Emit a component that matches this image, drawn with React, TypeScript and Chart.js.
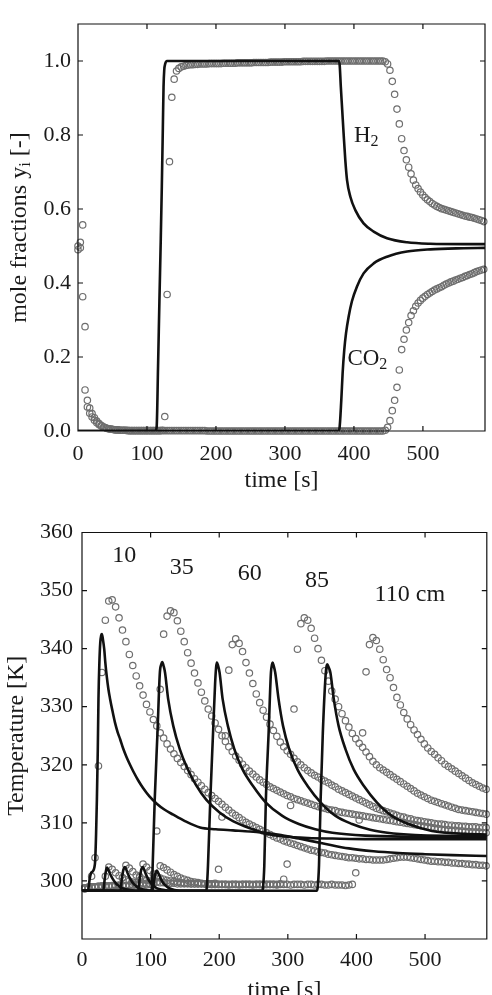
import React, { useEffect, useRef } from 'react';
import { Chart, registerables } from 'chart.js';

Chart.register(...registerables);

const FONT = "'Liberation Serif', 'DejaVu Serif', serif";

// ---------- axes / ticks ----------
const TOP_X_TICKS = [0, 100, 200, 300, 400, 500];
const TOP_Y_TICKS = [0, 0.2, 0.4, 0.6, 0.8, 1.0];
const BOT_X_TICKS = [0, 100, 200, 300, 400, 500];
const BOT_Y_TICKS = [300, 310, 320, 330, 340, 350, 360];
const TOP_X_RANGE = [0, 590];
const TOP_Y_RANGE = [0, 1.1];
const BOT_X_RANGE = [0, 590];
const BOT_Y_RANGE = [290, 360];

// ---------- top panel: mole fractions ----------
// experiment sampled every TOP_DT seconds starting at TOP_T0
const TOP_T0 = 0;
const TOP_DT = 3.4;
const H2_EXP = [
  0.500, 0.510, 0.557, 0.111, 0.083, 0.062, 0.047, 0.036, 0.027, 0.020,
  0.015, 0.011, 0.008, 0.006, 0.005, 0.004, 0.003, 0.003, 0.002, 0.002,
  0.002, 0.001, 0.001, 0.001, 0.001, 0.001, 0.001, 0.001, 0.001, 0.001,
  0.001, 0.001, 0.001, 0.001, 0.001, 0.001, 0.002, 0.039, 0.369, 0.728,
  0.902, 0.951, 0.973, 0.980, 0.984, 0.986, 0.988, 0.989, 0.990, 0.990,
  0.991, 0.991, 0.992, 0.992, 0.992, 0.992, 0.993, 0.993, 0.993, 0.993,
  0.993, 0.993, 0.994, 0.994, 0.994, 0.994, 0.994, 0.994, 0.995, 0.995,
  0.995, 0.995, 0.995, 0.995, 0.995, 0.996, 0.996, 0.996, 0.996, 0.996,
  0.996, 0.996, 0.997, 0.997, 0.997, 0.997, 0.997, 0.997, 0.998, 0.998,
  0.998, 0.998, 0.998, 0.998, 0.998, 0.998, 0.999, 0.999, 0.999, 0.999,
  0.999, 0.999, 0.999, 0.999, 0.999, 0.999, 1.000, 1.000, 1.000, 1.000,
  1.000, 1.000, 1.000, 1.000, 1.000, 1.000, 1.000, 1.000, 1.000, 1.000,
  1.000, 1.000, 1.000, 1.000, 1.000, 1.000, 1.000, 1.000, 1.000, 1.000,
  1.000, 0.998, 0.992, 0.975, 0.945, 0.910, 0.870, 0.830, 0.790, 0.758,
  0.733, 0.713, 0.695, 0.678, 0.665, 0.655, 0.646, 0.638, 0.631, 0.625,
  0.620, 0.615, 0.611, 0.607, 0.604, 0.601, 0.599, 0.597, 0.595, 0.593,
  0.591, 0.589, 0.587, 0.585, 0.583, 0.581, 0.580, 0.578, 0.577, 0.575,
  0.573, 0.571, 0.569, 0.566,
];
const CO2_EXP = [
  0.490, 0.495, 0.363, 0.282, 0.065, 0.048, 0.038, 0.029, 0.022, 0.017,
  0.013, 0.010, 0.008, 0.006, 0.005, 0.004, 0.003, 0.003, 0.002, 0.002,
  0.002, 0.002, 0.001, 0.001, 0.001, 0.001, 0.001, 0.001, 0.001, 0.001,
  0.001, 0.001, 0.001, 0.001, 0.001, 0.001, 0.001, 0.001, 0.001, 0.001,
  0.001, 0.001, 0.001, 0.001, 0.001, 0.001, 0.001, 0.001, 0.001, 0.001,
  0.001, 0.001, 0.001, 0.001, 0.001, 0.000, 0.000, 0.000, 0.000, 0.000,
  0.000, 0.000, 0.000, 0.000, 0.000, 0.000, 0.000, 0.000, 0.000, 0.000,
  0.000, 0.000, 0.000, 0.000, 0.000, 0.000, 0.000, 0.000, 0.000, 0.000,
  0.000, 0.000, 0.000, 0.000, 0.000, 0.000, 0.000, 0.000, 0.000, 0.000,
  0.000, 0.000, 0.000, 0.000, 0.000, 0.000, 0.000, 0.000, 0.000, 0.000,
  0.000, 0.000, 0.000, 0.000, 0.000, 0.000, 0.000, 0.000, 0.000, 0.000,
  0.000, 0.000, 0.000, 0.000, 0.000, 0.000, 0.000, 0.000, 0.000, 0.000,
  0.000, 0.000, 0.000, 0.000, 0.000, 0.000, 0.000, 0.000, 0.000, 0.000,
  0.000, 0.002, 0.010, 0.028, 0.055, 0.083, 0.118, 0.165, 0.220, 0.248,
  0.273, 0.293, 0.312, 0.325, 0.337, 0.346, 0.353, 0.359, 0.364, 0.369,
  0.373, 0.377, 0.381, 0.384, 0.387, 0.390, 0.394, 0.397, 0.400, 0.403,
  0.405, 0.408, 0.410, 0.413, 0.415, 0.418, 0.420, 0.423, 0.425, 0.428,
  0.431, 0.433, 0.435, 0.437,
];
// model curves: [time s, mole fraction]
const H2_MODEL = [
  [0, 0], [112, 0], [114, 0.01], [116, 0.17], [118, 0.35], [120, 0.52], [121.5, 0.66],
  [123, 0.82], [124, 0.93], [125, 0.975], [126.5, 0.993], [129, 1.0], [378.5, 1.0],
  [379.5, 0.985], [381, 0.93], [383, 0.868], [385, 0.805], [387.5, 0.732], [390, 0.678],
  [394.8, 0.633], [402, 0.597], [414, 0.561], [428.6, 0.539], [448, 0.521], [477, 0.51],
  [510.7, 0.506], [559, 0.505], [590, 0.505],
];
const CO2_MODEL = [
  [0, 0], [377, 0], [379, 0.007], [381.7, 0.084], [383.6, 0.156], [386, 0.219],
  [388.5, 0.264], [392.3, 0.309], [397, 0.35], [404.3, 0.39], [414, 0.426],
  [428.6, 0.453], [448, 0.471], [477, 0.485], [510.7, 0.491], [559, 0.494], [590, 0.495],
];

// ---------- bottom panel: temperatures ----------
const BOT_T0 = 4;
const BOT_DT = 5;
const EXP_10 = [
  298.6, 298.9, 300.8, 304.0, 319.8, 335.9, 344.9, 348.2, 348.4, 347.2,
  345.3, 343.2, 341.2, 339.0, 337.1, 335.3, 333.6, 332.0, 330.4, 329.1,
  327.8, 326.7, 325.5, 324.6, 323.6, 322.7, 321.9, 321.1, 320.4, 319.7,
  319.0, 318.3, 317.6, 317.0, 316.4, 315.8, 315.2, 314.7, 314.2, 313.7,
  313.2, 312.7, 312.2, 311.7, 311.3, 310.9, 310.5, 310.1, 309.8, 309.5,
  309.2, 308.9, 308.6, 308.3, 308.0, 307.7, 307.4, 307.2, 306.9, 306.7,
  306.5, 306.3, 306.1, 305.9, 305.7, 305.5, 305.3, 305.2, 305.0, 304.9,
  304.8, 304.6, 304.5, 304.4, 304.3, 304.2, 304.1, 304.0, 304.0, 303.9,
  303.8, 303.8, 303.7, 303.7, 303.6, 303.6, 303.6, 303.6, 303.7, 303.8,
  303.9, 304.0, 304.1, 304.1, 304.1, 304.0, 303.9, 303.8, 303.7, 303.6,
  303.5, 303.4, 303.4, 303.3, 303.3, 303.2, 303.2, 303.1, 303.1, 303.0,
  303.0, 302.9, 302.9, 302.8, 302.8, 302.7, 302.7, 302.6,
];
const EXP_35 = [
  298.8, 298.9, 299.0, 299.0, 299.0, 299.1, 300.8, 302.4, 302.0, 301.4,
  300.9, 300.5, 300.2, 300.0, 299.8, 299.7, 299.6, 299.6, 299.5, 299.5,
  300.2, 308.6, 333.0, 342.5, 345.6, 346.5, 346.2, 344.8, 343.0, 341.2,
  339.3, 337.5, 335.8, 334.1, 332.5, 331.0, 329.6, 328.4, 327.2, 326.1,
  325.0, 324.0, 323.1, 322.3, 321.5, 320.8, 320.1, 319.5, 318.9, 318.4,
  317.9, 317.4, 317.0, 316.6, 316.2, 315.9, 315.6, 315.3, 315.0, 314.7,
  314.5, 314.2, 314.0, 313.8, 313.6, 313.4, 313.2, 313.0, 312.8, 312.6,
  312.5, 312.3, 312.2, 312.1, 311.9, 311.8, 311.7, 311.6, 311.5, 311.4,
  311.3, 311.2, 311.1, 311.0, 310.9, 310.8, 310.7, 310.6, 310.5, 310.4,
  310.3, 310.2, 310.1, 310.0, 309.9, 309.8, 309.7, 309.6, 309.5, 309.4,
  309.3, 309.2, 309.1, 309.0, 308.9, 308.8, 308.8, 308.7, 308.7, 308.6,
  308.6, 308.5, 308.5, 308.4, 308.4, 308.4, 308.3, 308.3,
];
const EXP_60 = [
  298.7, 298.8, 298.9, 299.0, 299.0, 299.0, 299.1, 299.1, 299.1, 299.2,
  299.3, 300.6, 302.7, 302.2, 301.6, 301.0, 300.6, 300.3, 300.1, 300.0,
  299.9, 299.8, 299.7, 299.7, 299.6, 299.6, 299.6, 299.5, 299.5, 299.5,
  299.5, 299.5, 299.5, 299.5, 299.5, 299.5, 299.5, 299.5, 299.6, 302.0,
  311.0, 325.0, 336.3, 340.7, 341.7, 340.9, 339.5, 337.6, 335.8, 334.0,
  332.2, 330.7, 329.4, 328.2, 327.0, 325.9, 324.9, 323.9, 323.1, 322.4,
  321.8, 321.1, 320.5, 320.0, 319.5, 319.0, 318.6, 318.2, 317.9, 317.5,
  317.2, 316.9, 316.5, 316.2, 315.8, 315.5, 315.2, 314.9, 314.6, 314.3,
  314.0, 313.7, 313.4, 313.1, 312.8, 312.5, 312.3, 312.1, 311.9, 311.7,
  311.5, 311.3, 311.1, 311.0, 310.8, 310.7, 310.5, 310.4, 310.3, 310.2,
  310.1, 310.0, 309.9, 309.8, 309.8, 309.7, 309.6, 309.6, 309.5, 309.5,
  309.4, 309.4, 309.3, 309.3, 309.3, 309.2, 309.2, 309.2,
];
const EXP_85 = [
  298.8, 298.9, 299.0, 299.0, 299.1, 299.1, 299.1, 299.1, 299.2, 299.2,
  299.2, 299.2, 299.2, 299.3, 299.3, 299.4, 300.8, 302.9, 302.4, 301.8,
  301.2, 300.8, 300.5, 300.3, 300.1, 300.0, 299.9, 299.8, 299.7, 299.6,
  299.6, 299.5, 299.5, 299.5, 299.5, 299.5, 299.4, 299.4, 299.4, 299.4,
  299.4, 299.4, 299.4, 299.4, 299.4, 299.4, 299.4, 299.4, 299.4, 299.4,
  299.4, 299.4, 299.4, 299.4, 299.4, 299.4, 299.4, 299.5, 300.3, 302.9,
  313.0, 329.6, 339.9, 344.3, 345.3, 344.9, 343.5, 341.8, 340.0, 338.0,
  336.2, 334.4, 332.7, 331.3, 330.0, 328.8, 327.6, 326.5, 325.4, 324.5,
  323.7, 323.0, 322.2, 321.4, 320.6, 320.0, 319.5, 319.1, 318.7, 318.3,
  317.9, 317.5, 317.1, 316.7, 316.3, 315.9, 315.5, 315.1, 314.8, 314.5,
  314.2, 313.9, 313.7, 313.5, 313.3, 313.1, 312.9, 312.7, 312.5, 312.3,
  312.2, 312.1, 312.0, 311.9, 311.8, 311.7, 311.6, 311.5,
];
const EXP_110 = [
  298.7, 298.8, 298.9, 299.0, 299.0, 299.1, 299.1, 299.1, 299.1, 299.2,
  299.2, 299.2, 299.2, 299.2, 299.2, 299.3, 299.3, 299.3, 299.3, 299.4,
  299.6, 300.8, 302.6, 302.3, 301.9, 301.5, 301.1, 300.8, 300.5, 300.3,
  300.1, 299.9, 299.8, 299.7, 299.6, 299.5, 299.5, 299.4, 299.4, 299.4,
  299.4, 299.4, 299.3, 299.4, 299.4, 299.3, 299.4, 299.4, 299.4, 299.3,
  299.4, 299.4, 299.3, 299.4, 299.4, 299.4, 299.3, 299.4, 299.4, 299.4,
  299.3, 299.4, 299.4, 299.4, 299.3, 299.4, 299.4, 299.3, 299.4, 299.4,
  299.3, 299.3, 299.4, 299.3, 299.3, 299.3, 299.2, 299.3, 299.4, 301.4,
  310.5, 325.5, 336.0, 340.7, 341.9, 341.4, 339.9, 338.1, 336.4, 335.0,
  333.3, 331.6, 330.3, 329.0, 327.9, 326.9, 326.0, 325.2, 324.4, 323.6,
  322.9, 322.3, 321.8, 321.2, 320.7, 320.1, 319.7, 319.3, 318.9, 318.5,
  318.1, 317.7, 317.3, 316.9, 316.6, 316.3, 316.0, 315.8,
];
// model curves: [time s, temperature K]
const MODEL_10 = [
  [0, 298.3], [9, 298.4], [11, 300.2], [13, 301.3], [16, 301.7], [18, 302.3], [19.3, 303.7],
  [20.5, 308], [21.7, 314], [23, 322.5], [24, 331.3], [25.3, 337.5], [26.6, 341], [28, 342.3],
  [29, 342.5], [30.5, 341.6], [32.4, 339.9], [34, 337.6], [36, 335.3], [38.5, 333], [41, 331.3],
  [44, 329.5], [48, 327.3], [52, 325.6], [55.6, 324.4], [60, 322.8], [65, 321.3], [70, 320],
  [75, 318.8], [82, 317.3], [89, 316], [98, 314.6], [109, 313.3], [120, 312.3], [133, 311.4],
  [150, 310.3], [172, 309.2], [195, 308.9], [220, 308.7], [245, 308.5], [263, 308.3],
  [290, 307.9], [316, 307.3], [350, 306.5], [389, 305.6], [425, 305.1], [461, 304.8],
  [500, 304.6], [540, 304.45], [590, 304.3],
];
const MODEL_35 = [
  [0, 298.3], [31, 298.3], [33, 300.2], [35, 301.8], [36.5, 302.3], [38, 302.0], [41, 301.2],
  [45, 300.3], [50, 299.5], [55, 299.0], [60, 298.7], [70, 298.45], [85, 298.3], [100.5, 298.3],
  [101.8, 298.8], [103, 302.6], [106, 314], [110, 325.5], [113.5, 335.9], [115.5, 337.3],
  [117, 337.7], [119, 337], [121, 335.9], [125.6, 331.3], [133, 326.7], [142.5, 322.7],
  [152, 319.8], [166.7, 316.4], [181, 314], [200.5, 311.8], [220, 310.3], [249, 308.9],
  [270, 308.1], [292, 307.7], [330, 307.4], [365, 307.3], [420, 307.2], [500, 307.2], [590, 307.2],
];
const MODEL_60 = [
  [0, 298.3], [56, 298.3], [58, 300.3], [60.5, 302.0], [62.5, 302.4], [64, 302.1], [67, 301.2],
  [71, 300.2], [76, 299.4], [81, 298.9], [86, 298.6], [95, 298.4], [110, 298.3], [180.5, 298.3],
  [181.8, 298.8], [183.6, 302.6], [187, 314], [191, 325.5], [194, 334], [195.5, 336.8],
  [196.6, 337.6], [198.5, 337], [200.5, 335.9], [205, 331.3], [212.6, 326.7], [222, 322.7],
  [234, 319.2], [249, 316.4], [268, 313.5], [292, 311.2], [316, 309.8], [340, 308.9],
  [365, 308.3], [413, 307.8], [480, 307.6], [590, 307.5],
];
const MODEL_85 = [
  [0, 298.3], [82, 298.3], [84, 300.3], [86.5, 302.0], [88.5, 302.4], [90, 302.1], [93, 301.2],
  [97, 300.2], [102, 299.4], [107, 298.9], [112, 298.6], [122, 298.4], [140, 298.3],
  [262.5, 298.3], [263.8, 298.8], [265.7, 302.6], [268, 314], [272, 325.5], [275.4, 335.9],
  [277, 337.3], [277.8, 337.6], [279.5, 337], [281.6, 335.9], [286.5, 331.3], [293, 326.7],
  [302, 322.7], [314, 319.2], [328.5, 316.4], [348, 313.5], [369.6, 311.2], [393.7, 309.8],
  [420, 308.8], [445, 308.3], [485.5, 307.9], [540, 307.75], [590, 307.7],
];
const MODEL_110 = [
  [0, 298.3], [103, 298.3], [105, 300.0], [107.5, 301.5], [109, 301.8], [111, 301.4],
  [114, 300.6], [118, 299.7], [123, 299.1], [128, 298.7], [135, 298.45], [150, 298.3],
  [342, 298.3], [343.4, 298.8], [345.4, 302.6], [347.8, 314], [351, 325.5], [355, 335.3],
  [356.5, 337], [357.5, 337.3], [359.5, 336.8], [362, 335.9], [367, 331.3], [374, 326.7],
  [384, 322.7], [396, 319.2], [410.6, 316.4], [430, 313.5], [451.7, 311.2], [476, 309.8],
  [510, 308.6], [558, 308.1], [590, 308.0],
];

// ---------- text ----------
type Run = [string, boolean];
const TOP_X_TITLE: Run[] = [['time [s]', false]];
const TOP_Y_TITLE: Run[] = [['mole fractions y', false], ['i', true], [' [-]', false]];
const BOT_X_TITLE: Run[] = [['time [s]', false]];
const BOT_Y_TITLE: Run[] = [['Temperature [K]', false]];
const TOP_NOTES = [
  { runs: [['H', false], ['2', true]] as Run[], x: 400, y: 0.782 },
  { runs: [['CO', false], ['2', true]] as Run[], x: 390.5, y: 0.178 },
];
const BOT_NOTES = [
  { runs: [['10', false]] as Run[], x: 44, y: 354.9 },
  { runs: [['35', false]] as Run[], x: 128, y: 352.8 },
  { runs: [['60', false]] as Run[], x: 227, y: 351.9 },
  { runs: [['85', false]] as Run[], x: 325, y: 350.7 },
  { runs: [['110 cm', false]] as Run[], x: 426.5, y: 348.2 },
];

// ---------- helpers ----------
const sampled = (vals: number[], t0: number, dt: number) => vals.map((y, i) => ({ x: t0 + i * dt, y }));
const pairs = (arr: number[][]) => arr.map(([x, y]) => ({ x, y }));

const lineDs = (arr: number[][]) => ({
  type: 'scatter' as const,
  data: pairs(arr),
  showLine: true,
  borderColor: '#111111',
  borderWidth: 2.6,
  pointRadius: 0,
  fill: false,
  cubicInterpolationMode: 'monotone' as const,
  order: 0,
});
const circleDs = (vals: number[], t0: number, dt: number) => ({
  type: 'scatter' as const,
  data: sampled(vals, t0, dt),
  showLine: false,
  pointRadius: 3.2,
  pointBorderWidth: 1.2,
  pointBorderColor: '#6e6e6e',
  pointBackgroundColor: 'rgba(0,0,0,0)',
  borderColor: '#6e6e6e',
  backgroundColor: 'rgba(0,0,0,0)',
  clip: false as const,
  order: 1,
});

function fontStr(size: number) {
  return `${size}px ${FONT}`;
}
function runsWidth(ctx: CanvasRenderingContext2D, runs: Run[], size: number) {
  let w = 0;
  for (const [t, sub] of runs) {
    ctx.font = fontStr(sub ? size * 0.7 : size);
    w += ctx.measureText(t).width;
  }
  return w;
}
function drawRuns(ctx: CanvasRenderingContext2D, x: number, y: number, runs: Run[], size: number) {
  let cx = x;
  for (const [t, sub] of runs) {
    ctx.font = fontStr(sub ? size * 0.7 : size);
    ctx.fillText(t, cx, sub ? y + size * 0.17 : y);
    cx += ctx.measureText(t).width;
  }
}

const framePlugin = {
  id: 'matlabFrame',
  afterDatasetsDraw(chart: any) {
    const { ctx, chartArea: a, scales } = chart;
    const xs = scales.x;
    const ys = scales.y;
    const L = 5;
    ctx.save();
    ctx.strokeStyle = '#111111';
    ctx.lineWidth = 1.2;
    ctx.beginPath();
    ctx.rect(a.left, a.top, a.right - a.left, a.bottom - a.top);
    xs.ticks.forEach((t: any) => {
      const p = xs.getPixelForValue(t.value);
      ctx.moveTo(p, a.bottom);
      ctx.lineTo(p, a.bottom - L);
      ctx.moveTo(p, a.top);
      ctx.lineTo(p, a.top + L);
    });
    ys.ticks.forEach((t: any) => {
      const p = ys.getPixelForValue(t.value);
      ctx.moveTo(a.left, p);
      ctx.lineTo(a.left + L, p);
      ctx.moveTo(a.right, p);
      ctx.lineTo(a.right - L, p);
    });
    ctx.stroke();
    ctx.restore();
  },
};

function textPlugin(cfg: any) {
  return {
    id: 'texts',
    afterDraw(chart: any) {
      const { ctx, chartArea: a, scales } = chart;
      ctx.save();
      ctx.fillStyle = '#1a1a1a';
      ctx.textBaseline = 'alphabetic';
      ctx.textAlign = 'left';
      const xw = runsWidth(ctx, cfg.xTitle, cfg.titleSize);
      drawRuns(ctx, (a.left + a.right) / 2 - xw / 2, a.bottom + cfg.xTitleDy, cfg.xTitle, cfg.titleSize);
      ctx.save();
      ctx.translate(cfg.yTitleX, (a.top + a.bottom) / 2);
      ctx.rotate(-Math.PI / 2);
      const yw = runsWidth(ctx, cfg.yTitle, cfg.titleSize);
      drawRuns(ctx, -yw / 2, 0, cfg.yTitle, cfg.titleSize);
      ctx.restore();
      cfg.notes.forEach((n: any) => {
        drawRuns(ctx, scales.x.getPixelForValue(n.x), scales.y.getPixelForValue(n.y), n.runs, cfg.noteSize);
      });
      ctx.restore();
    },
  };
}

function makeConfig(c: any) {
  return {
    type: 'scatter' as const,
    data: { datasets: c.datasets },
    plugins: [framePlugin, textPlugin(c.text)],
    options: {
      responsive: false,
      animation: false as const,
      devicePixelRatio: 1,
      events: [],
      layout: { padding: { top: c.padTop, right: c.padRight, left: 0, bottom: 0 } },
      plugins: { legend: { display: false }, tooltip: { enabled: false } },
      scales: {
        x: {
          type: 'linear' as const,
          min: c.xRange[0],
          max: c.xRange[1],
          grid: { display: false, drawTicks: false },
          border: { display: false },
          afterBuildTicks: (s: any) => {
            s.ticks = c.xTicks.map((v: number) => ({ value: v }));
          },
          afterFit: (s: any) => {
            s.height = c.xAxisH;
          },
          ticks: {
            padding: c.xTickPad,
            autoSkip: false,
            maxRotation: 0,
            color: '#1a1a1a',
            font: { family: FONT, size: c.tickSize },
            callback: (v: any) => String(v),
          },
        },
        y: {
          type: 'linear' as const,
          min: c.yRange[0],
          max: c.yRange[1],
          grid: { display: false, drawTicks: false },
          border: { display: false },
          afterBuildTicks: (s: any) => {
            s.ticks = c.yTicks.map((v: number) => ({ value: v }));
          },
          afterFit: (s: any) => {
            s.width = c.yAxisW;
          },
          ticks: {
            padding: c.yTickPad,
            autoSkip: false,
            color: '#1a1a1a',
            font: { family: FONT, size: c.tickSize },
            callback: c.yFmt,
          },
        },
      },
    },
  };
}

export default function App() {
  const topRef = useRef<HTMLCanvasElement | null>(null);
  const botRef = useRef<HTMLCanvasElement | null>(null);

  useEffect(() => {
    const top = new Chart(
      topRef.current as HTMLCanvasElement,
      makeConfig({
        datasets: [
          lineDs(H2_MODEL),
          lineDs(CO2_MODEL),
          circleDs(H2_EXP, TOP_T0, TOP_DT),
          circleDs(CO2_EXP, TOP_T0, TOP_DT),
        ],
        xRange: TOP_X_RANGE,
        yRange: TOP_Y_RANGE,
        xTicks: TOP_X_TICKS,
        yTicks: TOP_Y_TICKS,
        yFmt: (v: any) => Number(v).toFixed(1),
        padTop: 24,
        padRight: 7,
        xAxisH: 69,
        yAxisW: 78,
        xTickPad: 10,
        yTickPad: 7,
        tickSize: 22,
        text: {
          xTitle: TOP_X_TITLE,
          yTitle: TOP_Y_TITLE,
          titleSize: 24,
          xTitleDy: 56,
          yTitleX: 25.5,
          notes: TOP_NOTES,
          noteSize: 23,
        },
      }) as any
    );
    const bot = new Chart(
      botRef.current as HTMLCanvasElement,
      makeConfig({
        datasets: [
          lineDs(MODEL_10),
          lineDs(MODEL_35),
          lineDs(MODEL_60),
          lineDs(MODEL_85),
          lineDs(MODEL_110),
          circleDs(EXP_10, BOT_T0, BOT_DT),
          circleDs(EXP_35, BOT_T0, BOT_DT),
          circleDs(EXP_60, BOT_T0, BOT_DT),
          circleDs(EXP_85, BOT_T0, BOT_DT),
          circleDs(EXP_110, BOT_T0, BOT_DT),
        ],
        xRange: BOT_X_RANGE,
        yRange: BOT_Y_RANGE,
        xTicks: BOT_X_TICKS,
        yTicks: BOT_Y_TICKS,
        yFmt: (v: any) => String(v),
        padTop: 32.5,
        padRight: 3.5,
        xAxisH: 56,
        yAxisW: 82,
        xTickPad: 8,
        yTickPad: 9,
        tickSize: 22,
        text: {
          xTitle: BOT_X_TITLE,
          yTitle: BOT_Y_TITLE,
          titleSize: 24,
          xTitleDy: 57.5,
          yTitleX: 23,
          notes: BOT_NOTES,
          noteSize: 24,
        },
      }) as any
    );
    return () => {
      top.destroy();
      bot.destroy();
    };
  }, []);

  return (
    <div style={{ position: 'fixed', left: 0, top: 0, width: 492, height: 995, background: '#ffffff', overflow: 'hidden' }}>
      <canvas ref={topRef} width={492} height={500} style={{ position: 'absolute', left: 0, top: 0, width: 492, height: 500 }} />
      <canvas ref={botRef} width={492} height={495} style={{ position: 'absolute', left: 0, top: 500, width: 492, height: 495 }} />
    </div>
  );
}
